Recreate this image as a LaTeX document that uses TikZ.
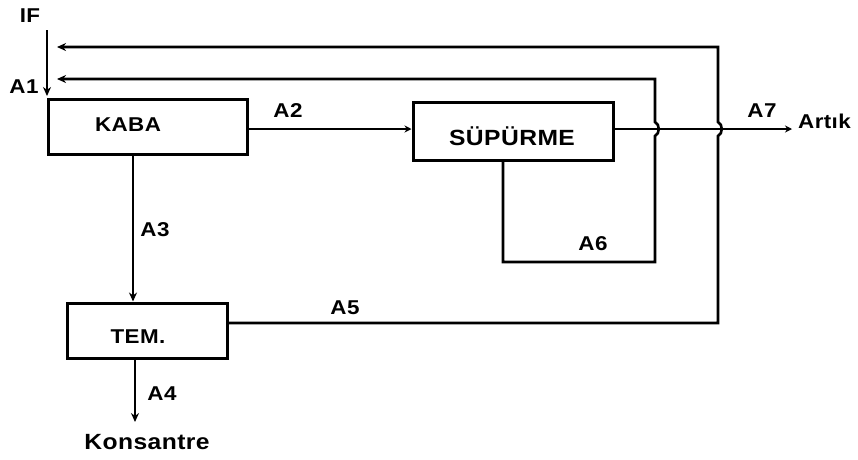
\documentclass[tikz,border=0pt]{standalone}
\usepackage{fontspec}
\setmainfont{Liberation Sans}
\newfontfamily\labfont[FakeStretch=1.12,LetterSpace=2]{Liberation Sans}
\usetikzlibrary{arrows.meta}
\tikzset{
  boxst/.style={draw, line width=3pt, inner sep=0pt},
  txt/.style={inner sep=0pt, font=\labfont\bfseries\fontsize{20}{20}\selectfont},
  bigtxt/.style={inner sep=0pt, font=\labfont\bfseries\fontsize{22}{22}\selectfont},
  flow/.style={line width=2.6pt},
  thinflow/.style={line width=1.6pt},
  tip/.style={-{Stealth[length=9pt,width=8pt]}},
  smalltip/.style={-{Stealth[length=7pt,width=7pt]}}
}
\begin{document}
\begin{tikzpicture}[x=1pt,y=-1pt]
\useasboundingbox (0,0) rectangle (858,459);
% boxes
\node[boxst, minimum width=199pt, minimum height=55pt] (kaba) at (148,126.5) {};
\node[txt] (kabat) at (128,125) {KABA};
\node[boxst, minimum width=200pt, minimum height=58pt] (sup) at (513,131) {};
\node[bigtxt] (supt) at (512,136) {SÜPÜRME};
\node[boxst, minimum width=160pt, minimum height=55pt] (tem) at (147,330.5) {};
\node[txt] (temt) at (138,337) {TEM.};
% labels
\node[txt] (if) at (30,16) {IF};
\node[txt] (a1) at (24,87) {A1};
\node[txt] (a2) at (288,111) {A2};
\node[txt] (a3) at (155,230) {A3};
\node[txt] (a4) at (162,394) {A4};
\node[txt] (a5) at (345,308) {A5};
\node[txt] (a6) at (593,244) {A6};
\node[txt] (a7) at (762,111) {A7};
\node[txt, anchor=west] (artik) at (798,121) {Artık};
\node[bigtxt] (kons) at (147,442) {Konsantre};
% coordinates
\coordinate (ifs) at (47,30);
\coordinate (ife) at (47,96);
\coordinate (fb1) at (57,47);
\coordinate (fb2) at (57,79);
\coordinate (a7e) at (792,129);
\coordinate (a4e) at (135,422);
% IF feed
\draw[flow, tip] (ifs) -- (ife);
% A2
\draw[thinflow, smalltip] (kaba.east |- 0,129) -- (sup.west |- 0,129);
% A3
\draw[flow, tip] (133,155) -- (tem.north -| 133,0);
% A4
\draw[flow, tip] (tem.south -| 135,0) -- (a4e);
% A7
\draw[thinflow, smalltip] (sup.east |- 0,129) -- (a7e);
% A6 loop
\draw[flow, tip] (sup.south -| 503,0) -- (503,262) -- (655,262) -- (655,136)
  .. controls (660,134) and (660,124) .. (655,122) -- (655,79) -- (fb2);
% A5 loop
\draw[flow, tip] (tem.east |- 0,323) -- (718,323) -- (718,136)
  .. controls (723,134) and (723,124) .. (718,122) -- (718,47) -- (fb1);
\end{tikzpicture}
\end{document}
